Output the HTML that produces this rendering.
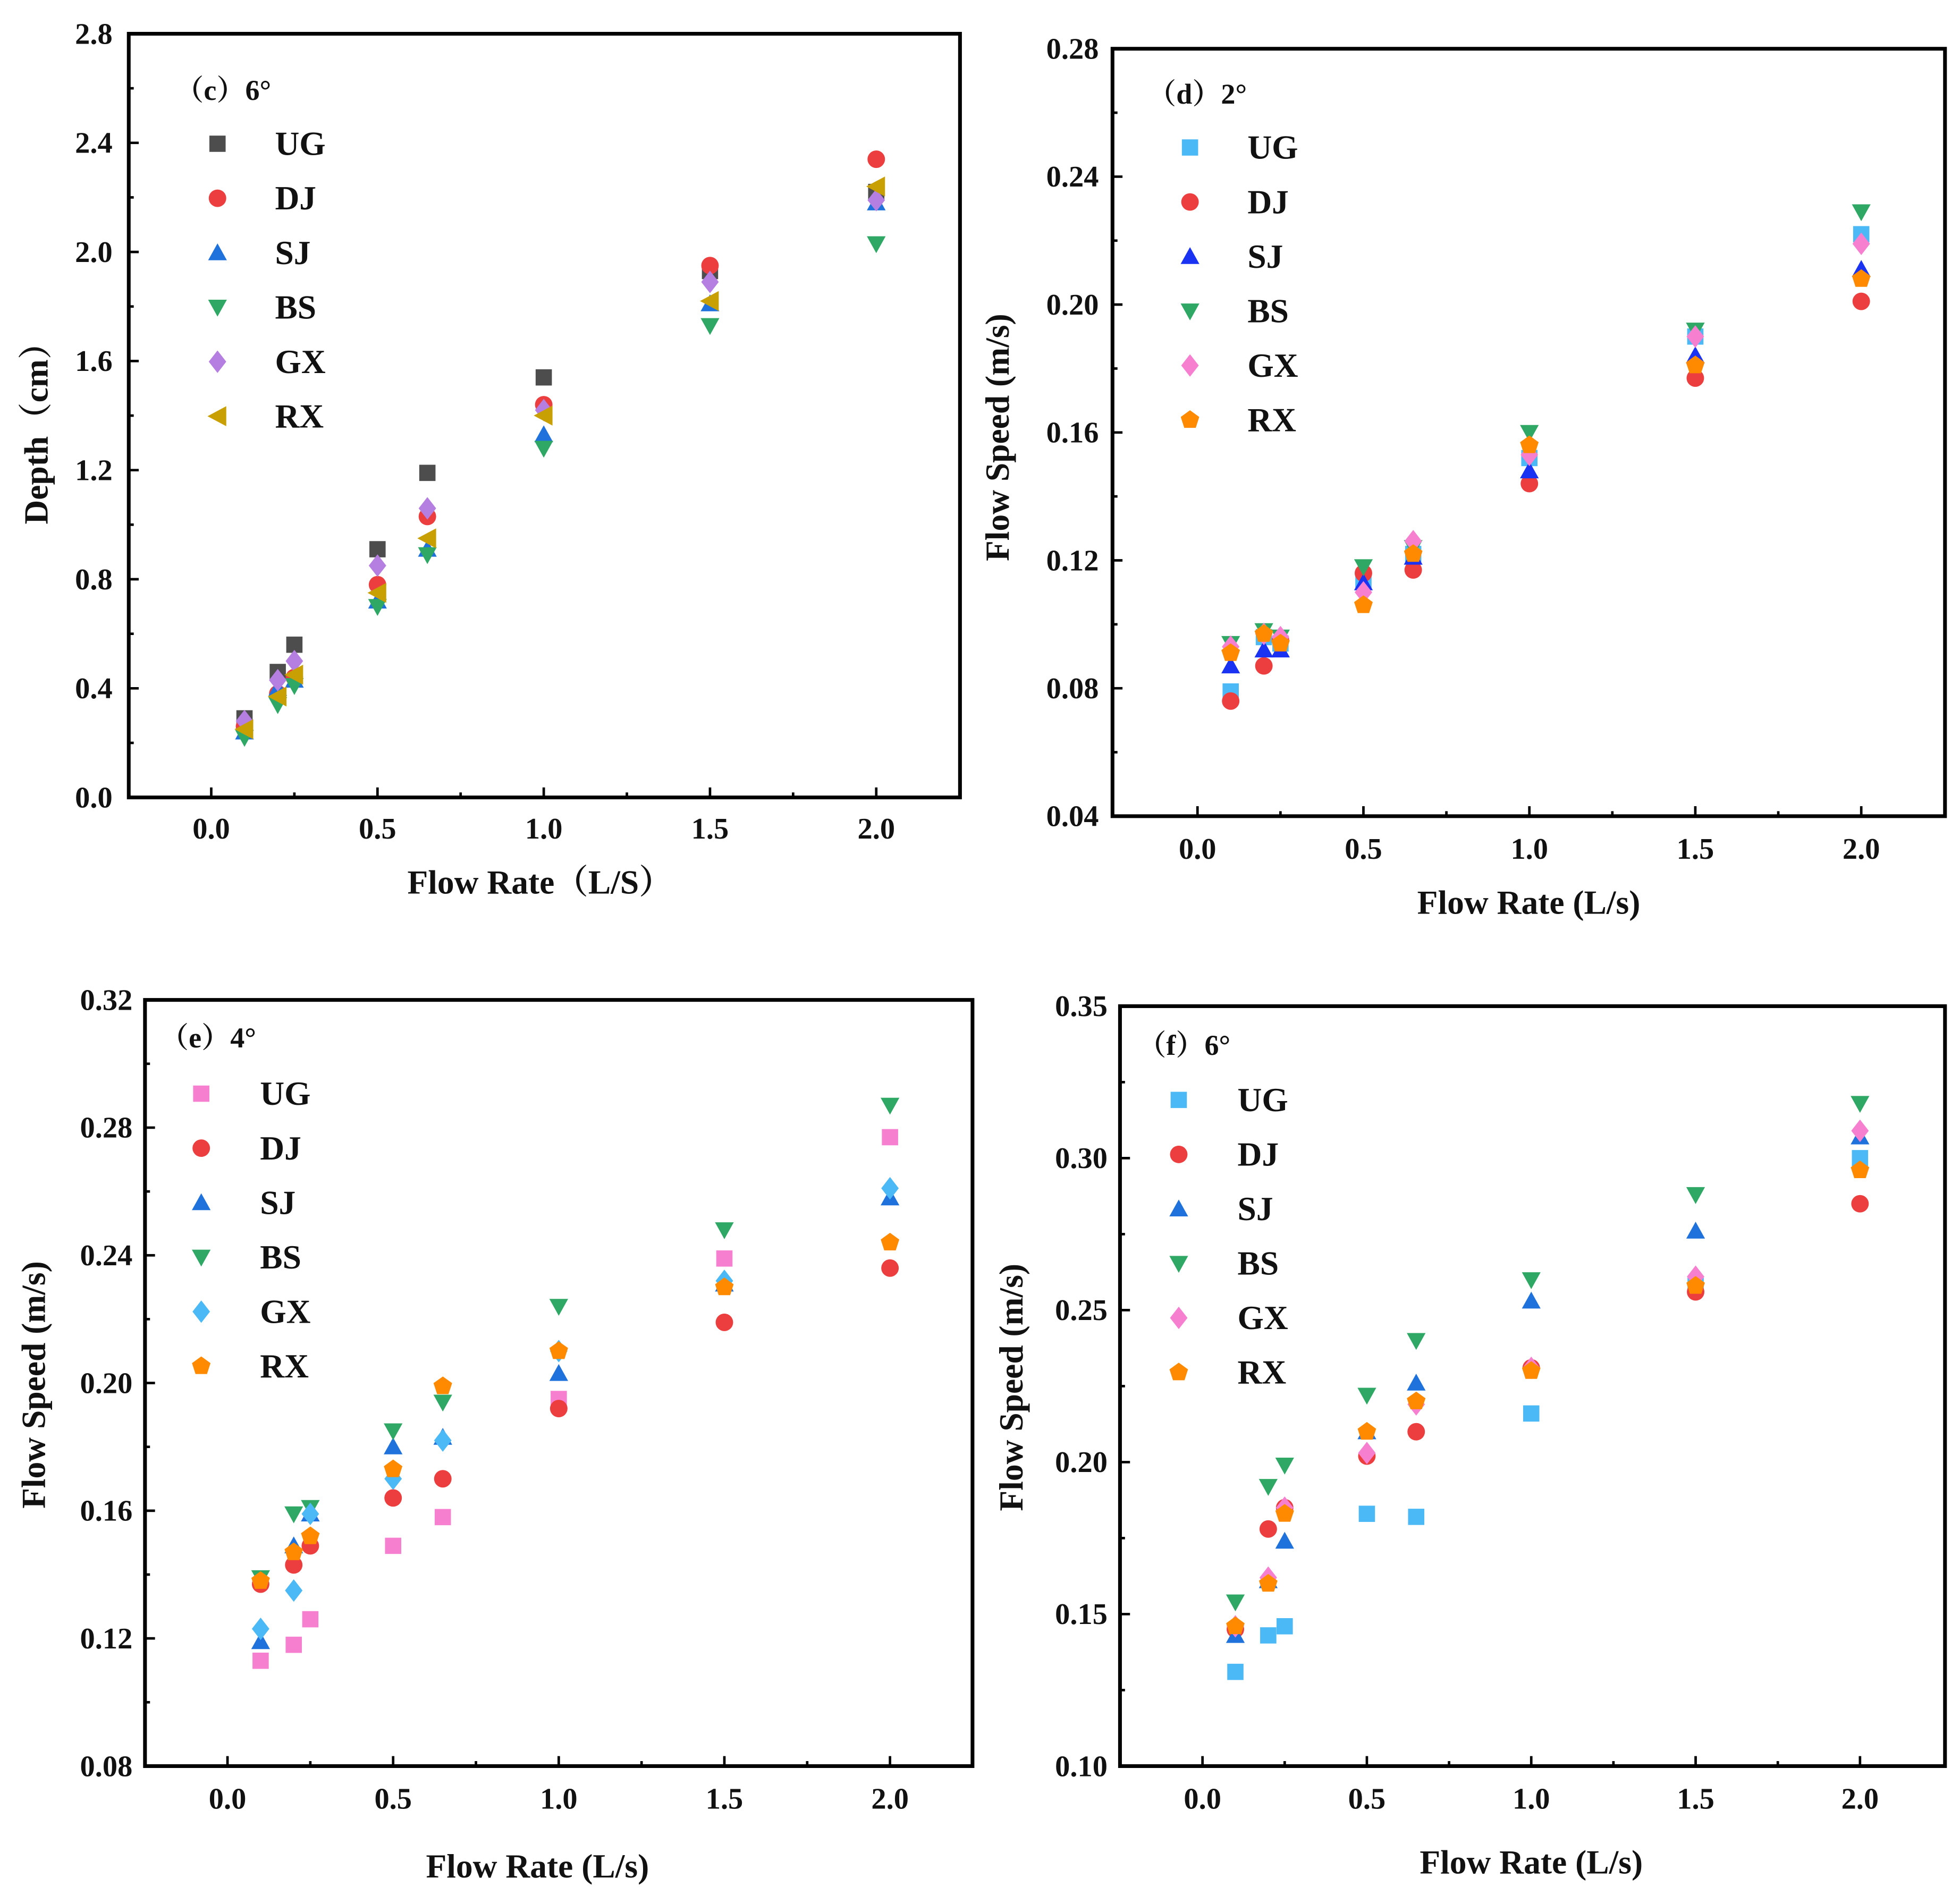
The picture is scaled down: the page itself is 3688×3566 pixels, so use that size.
<!DOCTYPE html>
<html><head><meta charset="utf-8"><style>
html,body{margin:0;padding:0;background:#fff}
svg text{font-family:"Liberation Serif","Noto Serif CJK SC",serif;font-weight:bold;fill:#111}
</style></head><body>
<svg id="fig" width="3688" height="3561" viewBox="0 0 1568 1514" xmlns="http://www.w3.org/2000/svg"></svg>
<script>
const xCats = [0.1,0.2,0.25,0.5,0.65,1.0,1.5,2.0];
const seriesNames = ["UG","DJ","SJ","BS","GX","RX"];
// panel c depth
const cUG=[0.29,0.46,0.56,0.91,1.19,1.54,1.93,2.22];
const cDJ=[0.26,0.38,0.44,0.78,1.03,1.44,1.95,2.34];
const cSJ=[0.24,0.40,0.43,0.72,0.91,1.33,1.81,2.18];
const cBS=[0.22,0.34,0.41,0.70,0.89,1.28,1.73,2.03];
const cGX=[0.28,0.43,0.50,0.85,1.06,1.42,1.89,2.19];
const cRX=[0.25,0.37,0.45,0.75,0.95,1.40,1.82,2.24];
// panel d
const dUG=[0.079,0.096,0.094,0.114,0.122,0.152,0.190,0.222];
const dDJ=[0.076,0.087,0.095,0.116,0.117,0.144,0.177,0.201];
const dSJ=[0.087,0.092,0.092,0.113,0.121,0.148,0.184,0.211];
const dBS=[0.094,0.098,0.096,0.118,0.124,0.160,0.192,0.229];
const dGX=[0.093,0.097,0.096,0.110,0.126,0.153,0.190,0.219];
const dRX=[0.091,0.097,0.094,0.106,0.122,0.156,0.181,0.208];
// panel e
const eUG=[0.113,0.118,0.126,0.149,0.158,0.195,0.239,0.277];
const eDJ=[0.137,0.143,0.149,0.164,0.170,0.192,0.219,0.236];
const eSJ=[0.119,0.149,0.159,0.180,0.183,0.203,0.231,0.258];
const eBS=[0.139,0.159,0.161,0.185,0.194,0.224,0.248,0.287];
const eGX=[0.123,0.135,0.159,0.170,0.182,0.210,0.232,0.261];
const eRX=[0.138,0.147,0.152,0.173,0.199,0.210,0.230,0.244];
// panel f
const fUG=[0.131,0.143,0.146,0.183,0.182,0.216,0.258,0.300];
const fDJ=[0.145,0.178,0.185,0.202,0.210,0.231,0.256,0.285];
const fSJ=[0.143,0.161,0.174,0.210,0.226,0.253,0.276,0.307];
const fBS=[0.154,0.192,0.199,0.222,0.240,0.260,0.288,0.318];
const fGX=[0.146,0.162,0.185,0.203,0.219,0.231,0.261,0.309];
const fRX=[0.146,0.160,0.183,0.210,0.220,0.230,0.258,0.296];
const xTicks=["0.0","0.5","1.0","1.5","2.0"];
const cTicks=["0.0","0.4","0.8","1.2","1.6","2.0","2.4","2.8"];
const dTicks=["0.04","0.08","0.12","0.16","0.20","0.24","0.28"];
const eTicks=["0.08","0.12","0.16","0.20","0.24","0.28","0.32"];
const fTicks=["0.10","0.15","0.20","0.25","0.30","0.35"];

const NS="http://www.w3.org/2000/svg";
const svg=document.getElementById('fig');
function mk(tag,attrs,parent){const e=document.createElementNS(NS,tag);for(const k in attrs)e.setAttribute(k,attrs[k]);(parent||svg).appendChild(e);return e;}

function marker(g,shape,cx,cy,color){
  const r=7.5;let e;
  if(shape==='sq') e=mk('rect',{x:cx-6.5,y:cy-6.5,width:13,height:13,fill:color},g);
  else if(shape==='ci') e=mk('circle',{cx:cx,cy:cy,r:7,fill:color},g);
  else if(shape==='up') e=mk('polygon',{points:`${cx},${cy-r} ${cx+r},${cy+r*0.8} ${cx-r},${cy+r*0.8}`,fill:color},g);
  else if(shape==='dn') e=mk('polygon',{points:`${cx},${cy+r} ${cx+r},${cy-r*0.8} ${cx-r},${cy-r*0.8}`,fill:color},g);
  else if(shape==='di') e=mk('polygon',{points:`${cx},${cy-9} ${cx+7},${cy} ${cx},${cy+9} ${cx-7},${cy}`,fill:color},g);
  else if(shape==='lt') e=mk('polygon',{points:`${cx-8},${cy} ${cx+7},${cy-8} ${cx+7},${cy+8}`,fill:color},g);
  else if(shape==='pe'){let p=[];for(let i=0;i<5;i++){const a=-Math.PI/2+i*2*Math.PI/5;p.push((cx+7.8*Math.cos(a)).toFixed(1)+','+(cy+7.8*Math.sin(a)).toFixed(1));}e=mk('polygon',{points:p.join(' '),fill:color},g);}
  return e;
}

const panels=[
 {id:'c',L:103,R:768,T:27,B:638,x0:169,x2:701,ymin:0,ymax:2.8,yt:cTicks,ystep:0.4,
  data:[cUG,cDJ,cSJ,cBS,cGX,cRX],shapes:['sq','ci','up','dn','di','lt'],
  colors:['#4d4d4d','#ec3e3e','#1f72dc','#2fa865','#b47fe0','#c9a004'],
  title:'（c）6°',tx:140,ty:80,lx:174,ltx:220,ly:115,ldy:43.6,
  xtitle:'Flow Rate（L/S）',xtx:432,xty:715,ytitle:'Depth（cm）',ytx:38,yty:340,xtickY:671,ytickX:90},
 {id:'d',L:890,R:1556,T:39,B:653,x0:958,x2:1489,ymin:0.04,ymax:0.28,yt:dTicks,ystep:0.04,
  data:[dUG,dDJ,dSJ,dBS,dGX,dRX],shapes:['sq','ci','up','dn','di','pe'],
  colors:['#4bb9f5','#ec3e3e','#1a33f2','#2fa865','#f77fd0','#ff8a00'],
  title:'（d）2°',tx:918,ty:83,lx:952,ltx:998,ly:118,ldy:43.6,
  xtitle:'Flow Rate  (L/s)',xtx:1223,xty:731,ytitle:'Flow Speed (m/s)',ytx:807,yty:350,xtickY:687,ytickX:879},
 {id:'e',L:116,R:778,T:800,B:1413,x0:182,x2:712,ymin:0.08,ymax:0.32,yt:eTicks,ystep:0.04,
  data:[eUG,eDJ,eSJ,eBS,eGX,eRX],shapes:['sq','ci','up','dn','di','pe'],
  colors:['#f77fd0','#ec3e3e','#1f72dc','#2fa865','#4bb9f5','#ff8a00'],
  title:'（e）4°',tx:128,ty:838,lx:161,ltx:208,ly:875,ldy:43.6,
  xtitle:'Flow Rate  (L/s)',xtx:430,xty:1502,ytitle:'Flow Speed (m/s)',ytx:36,yty:1108,xtickY:1447,ytickX:106},
 {id:'f',L:896,R:1556,T:805,B:1413,x0:962,x2:1488,ymin:0.10,ymax:0.35,yt:fTicks,ystep:0.05,
  data:[fUG,fDJ,fSJ,fBS,fGX,fRX],shapes:['sq','ci','up','dn','di','pe'],
  colors:['#4bb9f5','#ec3e3e','#1f72dc','#2fa865','#f77fd0','#ff8a00'],
  title:'（f）6°',tx:910,ty:844,lx:943,ltx:990,ly:880,ldy:43.6,
  xtitle:'Flow Rate  (L/s)',xtx:1225,xty:1499,ytitle:'Flow Speed (m/s)',ytx:818,yty:1110,xtickY:1447,ytickX:886}
];

panels.forEach(p=>{
  const g=mk('g',{});
  
  
  const xs=v=>p.x0+(p.x2-p.x0)*v/2;
  const ys=v=>p.B-(p.B-p.T)*(v-p.ymin)/(p.ymax-p.ymin);
  const fr=mk('rect',{x:p.L,y:p.T,width:p.R-p.L,height:p.B-p.T,fill:'none',stroke:'#000','stroke-width':3},g);
  
  
  for(let i=0;i<=8;i++){const v=i*0.25;const x=xs(v);const len=i%2?4:8;
    mk('line',{x1:x,y1:p.B,x2:x,y2:p.B-len,stroke:'#000','stroke-width':2},g);}
  xTicks.forEach((t,i)=>{const tx=mk('text',{x:xs(i*0.5),y:p.xtickY,'font-size':24,'text-anchor':'middle'},g);tx.textContent=t;
    
    });
  const n=p.yt.length-1;
  for(let i=0;i<=n*2;i++){const v=p.ymin+i*p.ystep/2;const y=ys(v);const len=i%2?4:8;
    mk('line',{x1:p.L,y1:y,x2:p.L+len,y2:y,stroke:'#000','stroke-width':2},g);}
  p.yt.forEach((t,i)=>{const tx=mk('text',{x:p.ytickX,y:ys(p.ymin+i*p.ystep)+8,'font-size':24,'text-anchor':'end'},g);tx.textContent=t;
    
    });
  const xt=mk('text',{x:p.xtx,y:p.xty,'font-size':27,'text-anchor':'middle'},g);xt.textContent=p.xtitle;
  
  
  const yt=mk('text',{x:p.ytx,y:p.yty,'font-size':27,'text-anchor':'middle',transform:`rotate(-90 ${p.ytx} ${p.yty})`},g);yt.textContent=p.ytitle;
  
  
  const pt=mk('text',{x:p.tx,y:p.ty,'font-size':23},g);pt.textContent=p.title;
  
  
  p.data.forEach((arr,si)=>{
    const sg=mk('g',{},g);
    
    
    arr.forEach((v,i)=>{const m=marker(sg,p.shapes[si],xs(xCats[i]),ys(v),p.colors[si]);
      
      });
    const ly=p.ly+si*p.ldy;
    const lg=mk('g',{},g);
    
    
    marker(lg,p.shapes[si],p.lx,ly,p.colors[si]);
    const lt=mk('text',{x:p.ltx,y:ly+9,'font-size':27},lg);lt.textContent=seriesNames[si];
  });
});
</script>
</body></html>
